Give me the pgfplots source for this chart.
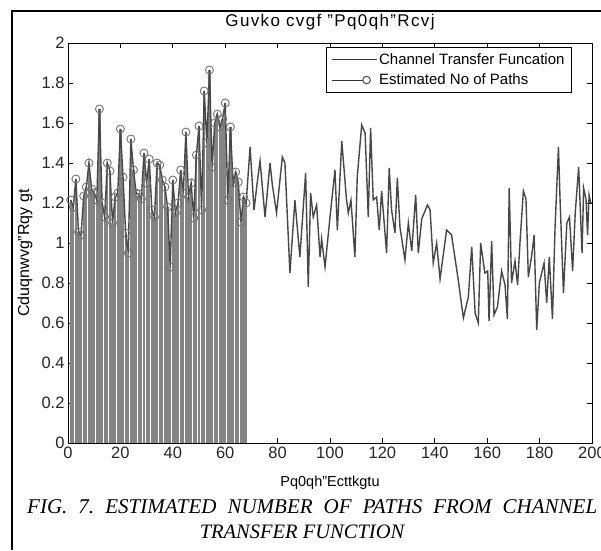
\documentclass[border=0pt]{standalone}
\usepackage{fontspec}
\setmainfont{Liberation Sans}
\newfontfamily\capfont{Liberation Serif}
\usepackage{pgfplots}
\pgfplotsset{compat=1.18}
\definecolor{stemgray}{RGB}{132,132,132}
\begin{document}
\frenchspacing
\begin{tikzpicture}
\useasboundingbox (0,0) rectangle (601pt,550pt);
\fill[white] (0,0) rectangle (601pt,550pt);
\draw[black, line width=2pt] (12pt,0pt) -- (12pt,539pt) -- (601pt,539pt);
\begin{axis}[
  at={(68pt,107pt)}, anchor=south west,
  width=524pt, height=400pt, scale only axis,
  xmin=0, xmax=200, ymin=0, ymax=2,
  xtick={0,20,40,60,80,100,120,140,160,180,200},
  ytick={0,0.2,0.4,0.6,0.8,1,1.2,1.4,1.6,1.8,2},
  tick align=inside, major tick length=5pt,
  axis line style={black, line width=0.9pt},
  every tick/.style={black, line width=0.8pt},
  /pgf/number format/assume math mode=true,
  tick label style={font=\fontsize{16.5}{19}\selectfont, text=black!85},
  title={Guvko cvgf "Pq0qh"Rcvj},
  title style={at={(axis description cs:0.5,1)}, anchor=base, yshift=10pt, font=\fontsize{17}{20}\selectfont\addfontfeatures{LetterSpace=8}},
  xlabel={Pq0qh"Ecttkgtu},
  xlabel style={at={(axis description cs:0.5,0)}, anchor=center, yshift=-40pt, font=\fontsize{14.5}{17}\selectfont},
  ylabel={Cduqnwvg"Rqy gt},
  ylabel style={at={(axis description cs:-0.082,0.475)}, anchor=center, font=\fontsize{16}{19}\selectfont},
  legend style={at={(axis description cs:0.9618,0.99)}, anchor=north east,
    draw=black, line width=1pt, inner xsep=5pt, inner ysep=4pt,
    font=\fontsize{15}{18}\selectfont, cells={anchor=west}, row sep=4pt},
  legend cell align=left,
]
% stems (estimated paths)
\addplot[ycomb, draw=stemgray, line width=2.2pt, forget plot] coordinates {
(1,1.215)(2,1.18)(3,1.32)(4,1.055)(5,1.04)(6,1.235)(7,1.28)(8,1.40)(9,1.27)(10,1.25)
(11,1.215)(12,1.67)(13,1.20)(14,1.13)(15,1.40)(16,1.36)(17,1.10)(18,1.23)(19,1.25)(20,1.57)
(21,1.33)(22,1.05)(23,0.95)(24,1.52)(25,1.365)(26,1.25)(27,1.245)(28,1.22)(29,1.45)(30,1.30)
(31,1.42)(32,1.165)(33,1.13)(34,1.40)(35,1.39)(36,1.315)(37,1.28)(38,1.18)(39,0.88)(40,1.315)
(41,1.15)(42,1.20)(43,1.365)(44,1.25)(45,1.555)(46,1.23)(47,1.30)(48,1.125)(49,1.44)(50,1.585)
(51,1.165)(52,1.76)(53,1.50)(54,1.865)(55,1.38)(56,1.60)(57,1.645)(58,1.58)(59,1.62)(60,1.70)
(61,1.215)(62,1.58)(63,1.30)(64,1.355)(65,1.305)(66,1.105)(67,1.23)(68,1.20)
};
% channel transfer function
\addplot[black!72, line width=1.4pt, forget plot] coordinates {
(1,1.215)(2,1.18)(3,1.32)(4,1.055)(5,1.04)(6,1.235)(7,1.28)(8,1.40)(9,1.27)(10,1.25)
(11,1.215)(12,1.67)(13,1.20)(14,1.13)(15,1.40)(16,1.36)(17,1.10)(18,1.23)(19,1.25)(20,1.57)
(21,1.33)(22,1.05)(23,0.95)(24,1.52)(25,1.365)(26,1.25)(27,1.245)(28,1.22)(29,1.45)(30,1.30)
(31,1.42)(32,1.165)(33,1.13)(34,1.40)(35,1.39)(36,1.315)(37,1.28)(38,1.18)(39,0.88)(40,1.315)
(41,1.15)(42,1.20)(43,1.365)(44,1.25)(45,1.555)(46,1.23)(47,1.30)(48,1.125)(49,1.44)(50,1.585)
(51,1.165)(52,1.76)(53,1.50)(54,1.865)(55,1.38)(56,1.60)(57,1.645)(58,1.58)(59,1.62)(60,1.70)
(61,1.215)(62,1.58)(63,1.30)(64,1.355)(65,1.305)(66,1.105)(67,1.23)(68,1.20)
(69.5,1.48)(71.0,1.165)(72.2,1.30)(73.3,1.41)(75.2,1.13)(77.1,1.40)(78.0,1.29)(79.6,1.15)
(81.8,1.43)(82.8,1.40)(84.7,0.85)(86.6,1.215)(88.5,0.93)(90.7,1.35)(91.7,0.78)(92.6,1.25)
(93.6,1.13)(94.9,1.19)(96.2,0.93)(96.8,1.02)(98.1,0.88)(100.0,1.13)(101.9,1.365)(102.8,1.065)
(104.5,1.51)(106.3,1.215)(107.0,1.15)(108.0,1.215)(109.5,0.93)(110.4,1.33)(112.1,1.59)(113.4,1.55)
(114.6,1.13)(115.5,1.575)(116.5,1.215)(117.8,1.23)(118.8,1.065)(119.7,1.26)(121.6,0.95)(122.6,1.375)
(123.5,1.165)(124.8,1.05)(125.7,1.325)(126.7,1.08)(128.6,0.915)(129.9,1.10)(131.2,0.96)(132.7,1.24)
(133.7,0.95)(135.0,1.12)(137.2,1.19)(138.2,1.165)(139.4,0.90)(140.7,1.00)(142.0,0.82)(144.5,1.065)
(146.4,1.04)(149.0,0.81)(150.9,0.625)(152.8,0.73)(154.1,0.98)(155.4,0.65)(156.6,0.60)(157.5,1.00)
(159.1,0.85)(160.2,0.86)(160.7,0.61)(161.7,1.01)(162.6,0.64)(163.9,0.68)(165.5,0.86)(166.8,0.79)
(167.7,0.62)(168.4,1.275)(169.3,0.80)(170.6,0.91)(171.6,0.79)(172.5,1.00)(173.8,1.26)(174.8,1.22)
(175.7,0.83)(177.0,0.94)(177.9,1.04)(178.9,0.565)(179.9,0.80)(181.7,0.90)(182.7,0.70)(183.7,0.93)
(184.9,0.62)(185.9,1.08)(187.2,1.48)(187.8,1.22)(189.1,0.75)(190.4,1.10)(191.4,1.13)(192.6,0.86)
(193.6,1.15)(194.9,1.38)(196.2,0.95)(196.8,1.275)(197.7,1.22)(198.3,1.04)(198.9,1.24)(199.5,1.20)(200,1.20)
};
% circles of the stems
\addplot[only marks, mark=o, mark size=4pt, mark options={draw=black!55, line width=0.9pt}, forget plot] coordinates {
(1,1.215)(2,1.18)(3,1.32)(4,1.055)(5,1.04)(6,1.235)(7,1.28)(8,1.40)(9,1.27)(10,1.25)
(11,1.215)(12,1.67)(13,1.20)(14,1.13)(15,1.40)(16,1.36)(17,1.10)(18,1.23)(19,1.25)(20,1.57)
(21,1.33)(22,1.05)(23,0.95)(24,1.52)(25,1.365)(26,1.25)(27,1.245)(28,1.22)(29,1.45)(30,1.30)
(31,1.42)(32,1.165)(33,1.13)(34,1.40)(35,1.39)(36,1.315)(37,1.28)(38,1.18)(39,0.88)(40,1.315)
(41,1.15)(42,1.20)(43,1.365)(44,1.25)(45,1.555)(46,1.23)(47,1.30)(48,1.125)(49,1.44)(50,1.585)
(51,1.165)(52,1.76)(53,1.50)(54,1.865)(55,1.38)(56,1.60)(57,1.645)(58,1.58)(59,1.62)(60,1.70)
(61,1.215)(62,1.58)(63,1.30)(64,1.355)(65,1.305)(66,1.105)(67,1.23)(68,1.20)
};
\addlegendimage{legend image code/.code={\draw[black!80, line width=1pt] (0pt,0pt) -- (45pt,0pt);}}
\addlegendentry{Channel Transfer Funcation}
\addlegendimage{legend image code/.code={\draw[black!80, line width=1pt] (0pt,0pt) -- (31pt,0pt); \draw[black!70, line width=1pt] (35pt,0pt) circle (3.8pt);}}
\addlegendentry{Estimated No of Paths}
\end{axis}
\node[anchor=base west, inner sep=0pt] at (27pt,37pt) {\capfont\itshape\fontsize{21}{24}\selectfont\makebox[570pt][s]{FIG. 7. ESTIMATED NUMBER OF PATHS FROM CHANNEL}};
\node[anchor=base, inner sep=0pt] at (302pt,12pt) {\capfont\itshape\fontsize{20.5}{24}\selectfont TRANSFER FUNCTION};
\end{tikzpicture}
\end{document}
